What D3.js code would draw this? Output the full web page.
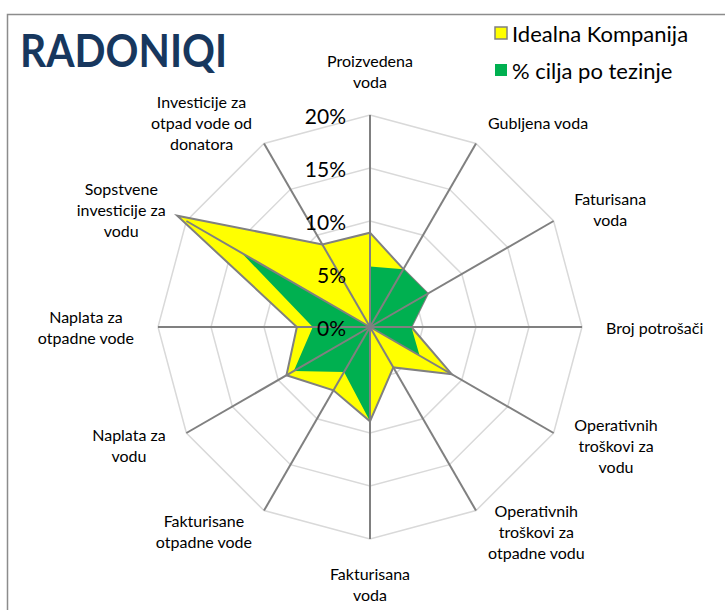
<!DOCTYPE html>
<html><head><meta charset="utf-8">
<script src="https://cdn.jsdelivr.net/npm/d3@7"></script>
<style>html,body{margin:0;padding:0;background:#fff;}svg{display:block;}</style>
</head><body>
<svg id="chart" width="725" height="610"></svg>
<script>
const categories = [
  ["Proizvedena","voda"],
  ["Gubljena voda"],
  ["Faturisana","voda"],
  ["Broj potrošači"],
  ["Operativnih","troškovi za","vodu"],
  ["Operativnih","troškovi za","otpadne vodu"],
  ["Fakturisana","voda"],
  ["Fakturisane","otpadne vode"],
  ["Naplata za","vodu"],
  ["Naplata za","otpadne vode"],
  ["Sopstvene","investicije za","vodu"],
  ["Investicije za","otpad vode od","donatora"]
];
const idealnaKompanija = [8.9, 6.3, 6.3, 3.9, 8.9, 4.4, 8.9, 6.9, 9.1, 6.9, 21.0, 9.0];
const ciljaPoTezinje   = [5.7, 6.3, 6.3, 3.9, 5.4, 0.0, 8.9, 4.9, 8.3, 5.4, 14.0, 0.0];
const tickValues = [0, 5, 10, 15, 20];
const seriesNames = ["Idealna Kompanija", "% cilja po tezinje"];
const title = "RADONIQI";

const svg = d3.select("#chart");
const cx = 370, cy = 327, R = 212;
const font = "Lato, 'Open Sans', sans-serif";

// frame
svg.append("path").attr("d", "M7.5,610 V14.5 H725")
  .attr("fill","none").attr("stroke","#8c8c8c").attr("stroke-width",1.5);

const r = d3.scaleLinear().domain([0, 20]).range([0, R]);
const n = categories.length;
const ang = d3.scaleLinear().domain([0, n]).range([0, 2*Math.PI]);
const pt = (i, v) => [cx + r(v)*Math.sin(ang(i)), cy - r(v)*Math.cos(ang(i))];

const g = svg.append("g");
// grid rings
tickValues.filter(t => t > 0).forEach(t => {
  g.append("path")
    .attr("d", d3.line()(d3.range(n).map(i => pt(i, t))) + "Z")
    .attr("fill","none").attr("stroke","#d9d9d9").attr("stroke-width",1.5);
});

const radial = d3.lineRadial().angle((d,i) => ang(i)).radius(d => r(d)).curve(d3.curveLinearClosed);
const series = g.append("g").attr("transform", `translate(${cx},${cy})`);
series.append("path").attr("d", radial(idealnaKompanija))
  .attr("fill","#ffff00").attr("stroke","#808080").attr("stroke-width",2).attr("stroke-linejoin","miter");
series.append("path").attr("d", radial(ciljaPoTezinje))
  .attr("fill","#00b050");

// spokes
d3.range(n).forEach(i => {
  const [x, y] = pt(i, 20);
  g.append("line").attr("x1",cx).attr("y1",cy).attr("x2",x).attr("y2",y)
    .attr("stroke","#808080").attr("stroke-width",2);
});

// tick labels
tickValues.forEach(t => {
  g.append("text").attr("x", cx - 24).attr("y", cy - r(t))
    .attr("text-anchor","end").attr("dominant-baseline","central")
    .attr("font-family",font).attr("font-size",21).attr("fill","#000")
    .text(t + "%");
});

// category labels
const lh = 21, gap = 24;
categories.forEach((lines, i) => {
  const a = ang(i);
  const dx = Math.sin(a), dy = -Math.cos(a);
  const px = cx + (R+gap)*dx, py = cy + (R+gap)*dy;
  const t = g.append("text").attr("font-family",font).attr("font-size",16).attr("fill","#000")
    .attr("text-anchor","middle");
  const spans = lines.map(l => t.append("tspan").text(l));
  const w = d3.max(spans, s => s.node().getComputedTextLength());
  let xc, top;
  const h = lines.length*lh;
  if (Math.abs(dx) < 0.01) {
    xc = px;
    top = dy < 0 ? py - h + 1 : py;
  } else {
    xc = dx > 0 ? px + w/2 : px - w/2;
    top = py - h/2;
  }
  spans.forEach((s, k) => s.attr("x", xc).attr("y", top + (k+0.5)*lh).attr("dominant-baseline","central"));
});

// title
svg.append("text").attr("x", 20).attr("y", 67)
  .attr("font-family",font).attr("font-weight","bold").attr("font-size",45)
  .attr("fill","#17375e").attr("textLength",207).attr("lengthAdjust","spacingAndGlyphs")
  .text(title);

// legend
const legColors = ["#ffff00", "#00b050"];
const legStroke = ["#808080", "none"];
seriesNames.forEach((name, k) => {
  const y = 33 + k*37;
  svg.append("rect").attr("x", 495).attr("y", y - 6).attr("width", 12).attr("height", 12)
    .attr("fill", legColors[k]).attr("stroke", legStroke[k]).attr("stroke-width", 1.5);
  svg.append("text").attr("x", 512).attr("y", y).attr("dominant-baseline","central")
    .attr("font-family",font).attr("font-size",22).attr("fill","#000").text(name);
});
</script>
</body></html>
